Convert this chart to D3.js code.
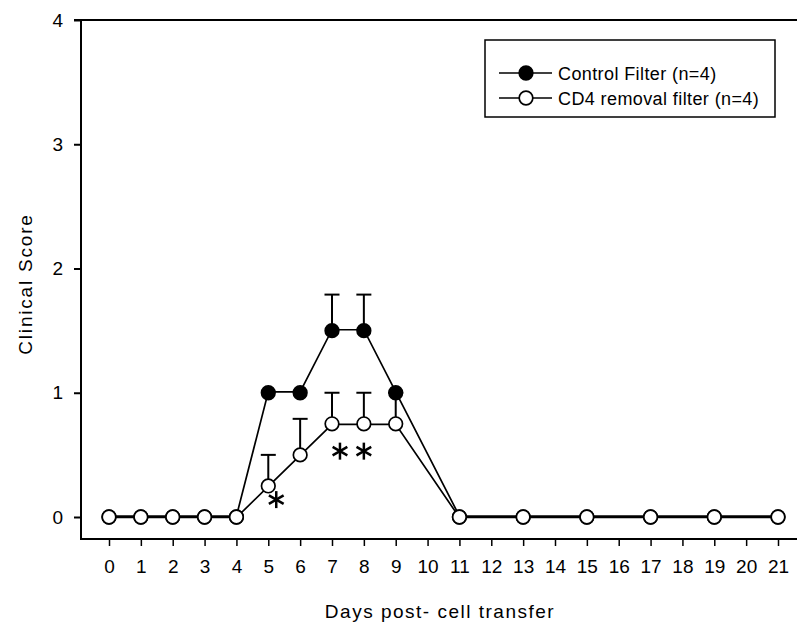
<!DOCTYPE html>
<html>
<head>
<meta charset="utf-8">
<script src="https://cdn.jsdelivr.net/npm/d3@7"></script>
<style>
  body { margin: 0; background: #fff; }
  svg { display: block; font-family: "Liberation Sans", Arial, sans-serif; }
</style>
</head>
<body>
<svg id="chart" width="797" height="626"></svg>
<script>
// days on the x axis
var days = [0, 1, 2, 3, 4, 5, 6, 7, 8, 9, 11, 13, 15, 17, 19, 21];
var xTicks = d3.range(0, 22);
var yTicks = [0, 1, 2, 3, 4];

// mean clinical score per group
var controlMean = [0, 0, 0, 0, 0, 1, 1, 1.5, 1.5, 1, 0, 0, 0, 0, 0, 0];
var controlErr  = [0, 0, 0, 0, 0, 0, 0, 0.29, 0.29, 0, 0, 0, 0, 0, 0, 0];
var cd4Mean     = [0, 0, 0, 0, 0, 0.25, 0.5, 0.75, 0.75, 0.75, 0, 0, 0, 0, 0, 0];
var cd4Err      = [0, 0, 0, 0, 0, 0.25, 0.29, 0.25, 0.25, 0.25, 0, 0, 0, 0, 0, 0];

// significance marks (day, score where the star sits)
var starDays   = [5.25, 7.25, 8.0];
var starLevels = [0.14, 0.53, 0.53];

var legendLabels = ["Control Filter (n=4)", "CD4 removal filter (n=4)"];

var svg = d3.select("#chart");
var x = d3.scaleLinear().domain([0, 21]).range([109, 778]);
var y = d3.scaleLinear().domain([0, 4]).range([517, 20]);

/// axes
svg.append("line").attr("x1", 74).attr("x2", 797).attr("y1", 20).attr("y2", 20)
   .attr("stroke", "#000").attr("stroke-width", 2);

var yAxis = svg.append("g").attr("transform", "translate(81,0)")
  .call(d3.axisLeft(y).tickValues(yTicks).tickFormat(d3.format("d")).tickSize(7).tickPadding(11));
yAxis.select(".domain").attr("d", "M0,19V540").attr("stroke-width", 2);
yAxis.selectAll(".tick line").attr("stroke-width", 2);
yAxis.selectAll("text").attr("font-size", 19).attr("font-family", "Liberation Sans, Arial, sans-serif");

var xAxis = svg.append("g").attr("transform", "translate(0,539)")
  .call(d3.axisBottom(x).tickValues(xTicks).tickFormat(d3.format("d")).tickSize(7).tickPadding(14));
xAxis.select(".domain").attr("d", "M80,0H797").attr("stroke-width", 2);
xAxis.selectAll(".tick line").attr("stroke-width", 1.5);
xAxis.selectAll("text").attr("font-size", 19).attr("font-family", "Liberation Sans, Arial, sans-serif");

svg.append("text")
   .attr("transform", "translate(32,284) rotate(-90)")
   .attr("text-anchor", "middle")
   .attr("font-size", 19).attr("letter-spacing", 1.8)
   .text("Clinical Score");

svg.append("text")
   .attr("x", 440).attr("y", 618)
   .attr("text-anchor", "middle")
   .attr("font-size", 19).attr("letter-spacing", 1.5)
   .text("Days post- cell transfer");

/// series
function series(mean, err, fill, shift) {
  var pts = days.map(function(d, i) { return { day: d, v: mean[i], e: err[i] }; });
  var g = svg.append("g");
  var bars = pts.filter(function(p) { return p.e > 0; });
  g.selectAll("line.err").data(bars).enter().append("line")
    .attr("x1", function(p) { return x(p.day); })
    .attr("x2", function(p) { return x(p.day); })
    .attr("y1", function(p) { return y(p.v); })
    .attr("y2", function(p) { return y(p.v + p.e); })
    .attr("stroke", "#000").attr("stroke-width", 2);
  g.selectAll("line.cap").data(bars).enter().append("line")
    .attr("x1", function(p) { return x(p.day) - 7.5; })
    .attr("x2", function(p) { return x(p.day) + 7.5; })
    .attr("y1", function(p) { return y(p.v + p.e); })
    .attr("y2", function(p) { return y(p.v + p.e); })
    .attr("stroke", "#000").attr("stroke-width", 2);
  // slight offset so the overlapping zero segments read as a heavier line, as in the scan
  g.append("path").datum(pts)
    .attr("transform", "translate(0," + shift + ")")
    .attr("d", d3.line().x(function(p) { return x(p.day); }).y(function(p) { return y(p.v); }))
    .attr("fill", "none").attr("stroke", "#000").attr("stroke-width", 1.7);
  return { g: g, pts: pts, fill: fill };
}

var ctrl = series(controlMean, controlErr, "#000", -0.9);
var cd4 = series(cd4Mean, cd4Err, "#fff", 0.5);

[ctrl, cd4].forEach(function(s) {
  s.g.selectAll("circle").data(s.pts).enter().append("circle")
    .attr("cx", function(p) { return x(p.day); })
    .attr("cy", function(p) { return y(p.v); })
    .attr("r", 6.8)
    .attr("fill", s.fill).attr("stroke", "#000").attr("stroke-width", 1.7);
});

/// asterisks
var star = svg.selectAll("g.star").data(starDays).enter().append("g")
  .attr("transform", function(d, i) { return "translate(" + x(d) + "," + y(starLevels[i]) + ")"; });
[0, 60, 120].forEach(function(a) {
  star.append("line").attr("x1", 0).attr("x2", 0).attr("y1", -8.5).attr("y2", 8.5)
    .attr("transform", "rotate(" + a + ")")
    .attr("stroke", "#000").attr("stroke-width", 2.5);
});

/// legend
svg.append("rect").attr("x", 485).attr("y", 40).attr("width", 290).attr("height", 77)
   .attr("fill", "#fff").attr("stroke", "#000").attr("stroke-width", 1.5);
var leg = svg.selectAll("g.leg").data(legendLabels).enter().append("g")
  .attr("transform", function(d, i) { return "translate(0," + (73 + i * 25) + ")"; });
leg.append("line").attr("x1", 499).attr("x2", 552).attr("y1", 0).attr("y2", 0)
   .attr("stroke", "#000").attr("stroke-width", 1.7);
leg.append("circle").attr("cx", 526).attr("cy", 0).attr("r", 6.8)
   .attr("fill", function(d, i) { return i === 0 ? "#000" : "#fff"; })
   .attr("stroke", "#000").attr("stroke-width", 1.7);
leg.append("text").attr("x", 558).attr("y", 6.5)
   .attr("font-size", 18).attr("letter-spacing", 0.4)
   .text(function(d) { return d; });
</script>
</body>
</html>
